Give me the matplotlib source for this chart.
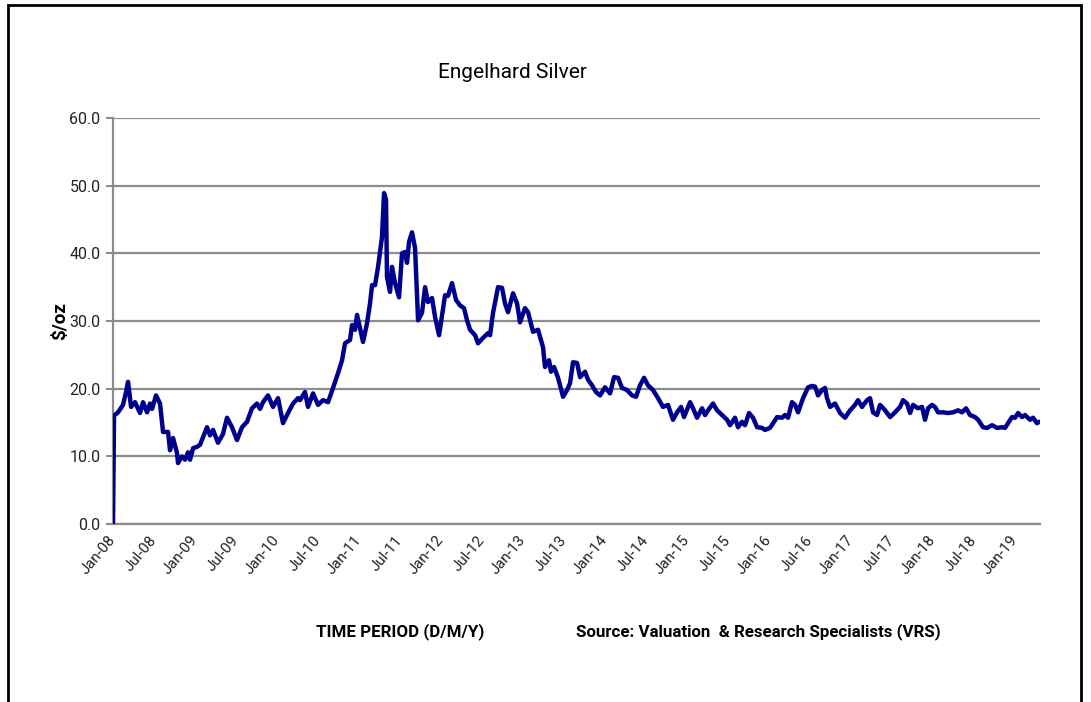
import matplotlib
matplotlib.use("Agg")
import matplotlib.pyplot as plt
from matplotlib import font_manager
from matplotlib.patches import Rectangle

# pick a narrow font if we have one (Calibri look-alike)
names = {f.name for f in font_manager.fontManager.ttflist}
base_font = "Liberation Sans Narrow" if "Liberation Sans Narrow" in names else "Roboto"
plt.rcParams["font.family"] = [base_font, "DejaVu Sans"]

# years since Jan-08 and price in $/oz
t_years = [0.000, 0.012, 0.061, 0.122, 0.159, 0.183, 0.220, 0.268, 0.329, 0.366,
           0.415, 0.451, 0.476, 0.524, 0.573, 0.610, 0.671, 0.695, 0.732, 0.780,
           0.793, 0.841, 0.878, 0.915, 0.939, 0.976, 1.024, 1.061, 1.146, 1.183,
           1.220, 1.280, 1.341, 1.390, 1.451, 1.512, 1.573, 1.634, 1.695, 1.756,
           1.793, 1.829, 1.890, 1.951, 2.012, 2.073, 2.134, 2.195, 2.256, 2.280,
           2.341, 2.378, 2.439, 2.500, 2.561, 2.622, 2.683, 2.744, 2.793, 2.829,
           2.890, 2.915, 2.951, 2.976, 3.049, 3.098, 3.134, 3.159, 3.195, 3.232,
           3.280, 3.305, 3.329, 3.341, 3.378, 3.402, 3.439, 3.488, 3.524, 3.561,
           3.585, 3.610, 3.646, 3.683, 3.720, 3.768, 3.805, 3.841, 3.890, 3.927,
           3.976, 4.049, 4.085, 4.134, 4.183, 4.232, 4.280, 4.317, 4.354, 4.415,
           4.451, 4.512, 4.573, 4.598, 4.634, 4.695, 4.744, 4.780, 4.817, 4.878,
           4.927, 4.963, 5.024, 5.061, 5.122, 5.183, 5.244, 5.268, 5.317, 5.341,
           5.378, 5.427, 5.488, 5.537, 5.573, 5.610, 5.659, 5.695, 5.756, 5.793,
           5.841, 5.890, 5.939, 6.000, 6.061, 6.110, 6.159, 6.207, 6.268, 6.329,
           6.378, 6.427, 6.476, 6.524, 6.585, 6.646, 6.707, 6.768, 6.829, 6.878,
           6.927, 6.963, 7.037, 7.073, 7.122, 7.183, 7.220, 7.256, 7.317, 7.366,
           7.427, 7.488, 7.524, 7.585, 7.622, 7.671, 7.707, 7.756, 7.805, 7.854,
           7.915, 7.951, 8.012, 8.049, 8.098, 8.159, 8.195, 8.232, 8.280, 8.317,
           8.354, 8.415, 8.476, 8.524, 8.561, 8.598, 8.646, 8.683, 8.707, 8.744,
           8.805, 8.866, 8.927, 8.988, 9.049, 9.085, 9.134, 9.195, 9.232, 9.268,
           9.317, 9.354, 9.415, 9.476, 9.537, 9.598, 9.634, 9.683, 9.720, 9.756,
           9.817, 9.866, 9.902, 9.939, 9.988, 10.024, 10.061, 10.122, 10.183, 10.244,
           10.305, 10.354, 10.402, 10.451, 10.512, 10.549, 10.610, 10.659, 10.720, 10.780,
           10.841, 10.878, 10.915, 10.963, 11.000, 11.037, 11.085, 11.122, 11.183, 11.220,
           11.268, 11.293]
price = [0.0, 16.0, 16.5, 17.6, 19.5, 21.0, 17.3, 18.0, 16.4, 18.0,
         16.5, 17.8, 17.0, 19.0, 17.8, 13.6, 13.6, 10.9, 12.7, 10.5,
         9.0, 10.0, 9.5, 10.6, 9.5, 11.2, 11.4, 11.7, 14.3, 13.1,
         13.9, 12.0, 13.3, 15.7, 14.3, 12.4, 14.3, 15.1, 17.1, 17.8,
         17.0, 18.0, 19.0, 17.3, 18.6, 14.9, 16.4, 17.8, 18.6, 18.3,
         19.5, 17.3, 19.3, 17.6, 18.3, 18.0, 20.1, 22.3, 24.2, 26.7,
         27.2, 29.4, 28.7, 30.9, 26.9, 29.7, 32.6, 35.3, 35.3, 38.0,
         42.4, 48.9, 47.9, 36.5, 34.3, 38.0, 35.6, 33.5, 40.0, 40.2,
         38.6, 41.7, 43.1, 40.8, 30.1, 31.2, 35.0, 32.8, 33.4, 30.6,
         27.9, 33.8, 33.7, 35.6, 33.1, 32.3, 31.9, 30.1, 28.7, 27.9,
         26.7, 27.5, 28.2, 27.9, 31.2, 35.0, 34.9, 32.6, 31.3, 34.1,
         32.6, 29.8, 31.9, 31.3, 28.4, 28.7, 26.1, 23.2, 24.2, 22.5,
         23.2, 21.6, 18.8, 19.8, 20.8, 23.9, 23.8, 21.7, 22.5, 21.3,
         20.5, 19.5, 19.0, 20.2, 19.3, 21.7, 21.6, 20.1, 19.8, 19.0,
         18.8, 20.5, 21.6, 20.5, 19.8, 18.6, 17.3, 17.6, 15.4, 16.5,
         17.3, 15.8, 18.0, 17.1, 15.7, 17.1, 16.1, 16.8, 17.8, 16.8,
         16.1, 15.4, 14.6, 15.7, 14.3, 15.1, 14.6, 16.4, 15.7, 14.3,
         14.2, 13.9, 14.2, 14.9, 15.8, 15.7, 16.1, 15.7, 18.0, 17.6,
         16.5, 18.6, 20.2, 20.4, 20.3, 19.0, 19.8, 20.1, 18.6, 17.3,
         17.8, 16.4, 15.7, 16.8, 17.6, 18.3, 17.3, 18.3, 18.6, 16.5,
         16.1, 17.6, 16.8, 15.8, 16.5, 17.3, 18.3, 17.8, 16.4, 17.6,
         17.1, 17.3, 15.4, 17.1, 17.6, 17.3, 16.5, 16.5, 16.4, 16.5,
         16.8, 16.5, 17.1, 16.1, 15.8, 15.4, 14.3, 14.2, 14.6, 14.2,
         14.3, 14.2, 14.9, 15.8, 15.7, 16.4, 15.8, 16.1, 15.4, 15.7,
         14.9, 15.1]

tick_pos = [i * 0.5 for i in range(23)]
tick_labels = []
for y in range(8, 20):
    tick_labels += ["Jan-%02d" % y, "Jul-%02d" % y]
tick_labels = tick_labels[:23]

y_ticks = [0, 10, 20, 30, 40, 50, 60]

fig = plt.figure(figsize=(10.91, 7.02), dpi=100)
ax = fig.add_axes([0.1036, 0.2536, 0.8497, 0.5783])

grid_col = "#8c8c8c"
ax.plot(t_years, price, color="#00008F", lw=3.2, solid_joinstyle="round",
        solid_capstyle="round", zorder=3)

ax.set_xlim(0, 11.305)
ax.set_ylim(0, 60)
ax.set_yticks(y_ticks)
ax.set_yticklabels(["%.1f" % v for v in y_ticks], fontsize=11.5, color="#222222")
ax.set_xticks(tick_pos)
ax.set_xticklabels(tick_labels, rotation=50, ha="right", va="center",
                   rotation_mode="anchor", fontsize=10.8, color="#222222")
ax.tick_params(axis="x", length=0, pad=10)
ax.tick_params(axis="y", length=5, width=1.5, color=grid_col, pad=4)

ax.grid(axis="y", color=grid_col, lw=1.6)
ax.set_axisbelow(True)
for s in ["top", "right"]:
    ax.spines[s].set_visible(False)
ax.spines["left"].set_color(grid_col)
ax.spines["left"].set_linewidth(1.6)
ax.spines["bottom"].set_color(grid_col)
ax.spines["bottom"].set_linewidth(1.6)

ax.set_ylabel("$/oz", fontsize=13.5, fontweight="bold", labelpad=0)

fig.text(0.470, 0.897, "Engelhard Silver", ha="center", va="center", fontsize=15)
fig.text(0.2896, 0.0997, "TIME PERIOD (D/M/Y)", ha="left", va="center",
         fontsize=12.2, fontweight="bold")
fig.text(0.528, 0.0997, "Source: Valuation  & Research Specialists (VRS)", ha="left",
         va="center", fontsize=12.2, fontweight="bold")

# frame around the chart area
fig.patches.append(Rectangle((0.0073, -0.01), 0.9835, 1.0029, transform=fig.transFigure,
                             fill=False, edgecolor="black", lw=2.0))

fig.savefig("out.png", dpi=100)
